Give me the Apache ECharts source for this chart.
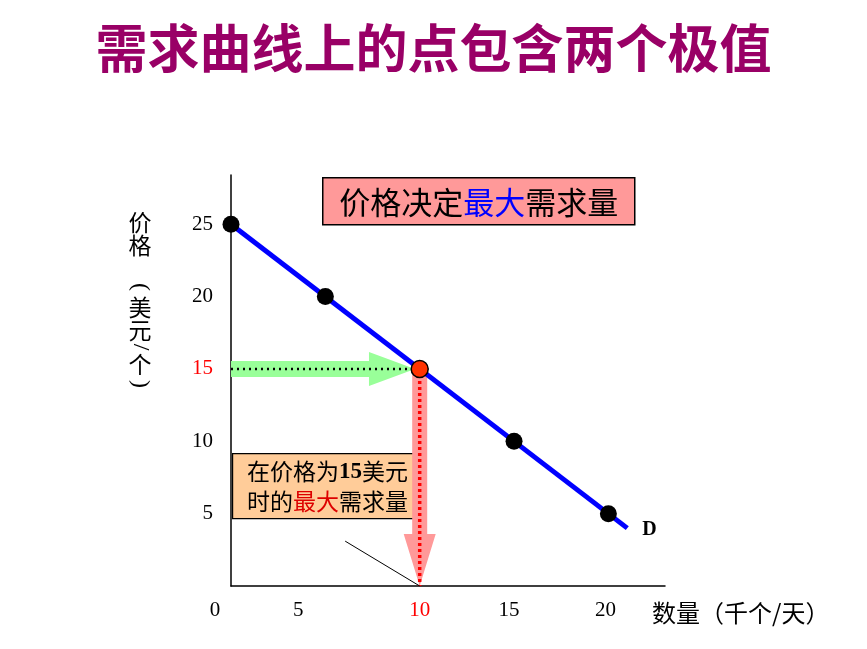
<!DOCTYPE html>
<html>
<head>
<meta charset="utf-8">
<script src="https://cdn.jsdelivr.net/npm/echarts@6/dist/echarts.min.js"></script>
<style>
  html, body { margin: 0; padding: 0; background: #fff; }
  #chart { width: 867px; height: 649px; }
</style>
</head>
<body>
<div id="chart"></div>
<script>
var xTicks = [0, 5, 10, 15, 20];
var yTicks = [5, 10, 15, 20, 25];
var demandPoints = [[0, 25], [5, 20], [10, 15], [15, 10], [20, 5]];
var demandLine = [[0, 25], [21, 4]];
var chosenPoint = [[10, 15]];
var priceGuide = [[0, 15], [9.75, 15]];
var quantityGuide = [[10, 15], [10, 0]];
var pointerLine = [[6.05, 3.1], [10, 0]];
var yNameChars = ['价', '格', '(', '美', '元', '/', '个', ')'];
var xLabelShift = { 0: 16, 5: 27, 15: 5, 20: 3 };

var serif = '"Liberation Serif", "DejaVu Serif", serif';
var cjk = '"Noto Sans CJK SC", sans-serif';

function arrowItem(w, hw, hl, color) {
  return function (params, api) {
    var a = api.coord([api.value(0), api.value(1)]);
    var b = api.coord([api.value(2), api.value(3)]);
    var dx = b[0] - a[0], dy = b[1] - a[1];
    var len = Math.sqrt(dx * dx + dy * dy);
    var ux = dx / len, uy = dy / len, nx = -uy, ny = ux;
    var hx = b[0] - ux * hl, hy = b[1] - uy * hl;
    var pts = [
      [a[0] + nx * w, a[1] + ny * w],
      [hx + nx * w, hy + ny * w],
      [hx + nx * hw, hy + ny * hw],
      [b[0], b[1]],
      [hx - nx * hw, hy - ny * hw],
      [hx - nx * w, hy - ny * w],
      [a[0] - nx * w, a[1] - ny * w]
    ];
    return { type: 'polygon', shape: { points: pts }, style: { fill: color } };
  };
}

// vertical y-axis name, one glyph per row; punctuation turned like vertical CJK text
var yNameRows = [222, 245, 287, 307, 330, 347, 364, 384];
var yNameGraphics = yNameChars.map(function (ch, i) {
  var turned = '()/'.indexOf(ch) >= 0;
  return {
    type: 'text', x: 140, y: yNameRows[i],
    rotation: turned ? -Math.PI / 2 : 0,
    style: {
      text: ch, fill: '#000', font: (turned ? '24px ' + serif : '23px ' + cjk),
      align: 'center', verticalAlign: 'middle'
    }
  };
});

var chart = echarts.init(document.getElementById('chart'), null, { renderer: 'canvas' });
chart.setOption({
  animation: false,
  grid: { left: 231, right: 202, top: 175, bottom: 63 },
  xAxis: {
    type: 'value', min: 0, max: 23, interval: 5,
    axisLine: { lineStyle: { color: '#000', width: 1.5 } },
    axisTick: { show: false },
    splitLine: { show: false },
    axisLabel: {
      showMaxLabel: false, margin: 14,
      fontFamily: serif, fontSize: 21, color: '#000',
      formatter: function (v) {
        if (xTicks.indexOf(v) < 0) return '';
        var s = xLabelShift[v] || 0;
        return '{' + (v === 10 ? 'r' : 'k') + s + '|' + v + '}';
      },
      rich: (function () {
        var r = {};
        [0, 3, 5, 16, 27].forEach(function (s) {
          r['k' + s] = { color: '#000', fontFamily: serif, fontSize: 21, padding: [0, s * 2, 0, 0] };
          r['r' + s] = { color: '#ff0000', fontFamily: serif, fontSize: 21, padding: [0, s * 2, 0, 0] };
        });
        return r;
      })()
    }
  },
  yAxis: {
    type: 'value', min: 0, max: 28.4, interval: 5,
    axisLine: { lineStyle: { color: '#000', width: 1.5 } },
    axisTick: { show: false },
    splitLine: { show: false },
    axisLabel: {
      showMinLabel: false, showMaxLabel: false, margin: 18,
      fontFamily: serif, fontSize: 21,
      formatter: function (v) {
        if (yTicks.indexOf(v) < 0) return '';
        return v === 15 ? '{r|' + v + '}' : '{k|' + v + '}';
      },
      rich: {
        k: { color: '#000', fontFamily: serif, fontSize: 21 },
        r: { color: '#ff0000', fontFamily: serif, fontSize: 21 }
      }
    }
  },
  series: [
    {
      type: 'custom', name: 'price arrow', z: 1,
      encode: { x: [0, 2], y: [1, 3] },
      data: [[priceGuide[0][0], priceGuide[0][1], priceGuide[1][0], priceGuide[1][1]]],
      renderItem: arrowItem(8, 17, 46, '#99ff99')
    },
    {
      type: 'custom', name: 'quantity arrow', z: 1,
      encode: { x: [0, 2], y: [1, 3] },
      data: [[quantityGuide[0][0], quantityGuide[0][1], quantityGuide[1][0], quantityGuide[1][1]]],
      renderItem: arrowItem(7.5, 16, 52, '#ff9999')
    },
    {
      type: 'line', z: 2, data: priceGuide, showSymbol: false, silent: true,
      lineStyle: { color: '#000', width: 2.5, type: [2, 4] }
    },
    {
      type: 'line', z: 2, data: quantityGuide, showSymbol: false, silent: true,
      lineStyle: { color: '#ff0000', width: 3.5, type: [3, 3] }
    },
    {
      type: 'line', z: 2, data: pointerLine, showSymbol: false, silent: true,
      lineStyle: { color: '#000', width: 1 }
    },
    {
      type: 'line', z: 3, data: demandLine, showSymbol: false, silent: true,
      lineStyle: { color: '#0000ff', width: 5 },
      endLabel: {
        show: true, formatter: 'D', color: '#000',
        fontFamily: serif, fontWeight: 'bold', fontSize: 20, offset: [7, 2]
      }
    },
    {
      type: 'scatter', z: 4, data: demandPoints, symbolSize: 17,
      itemStyle: { color: '#000', opacity: 1 }
    },
    {
      type: 'scatter', z: 5, data: chosenPoint, symbolSize: 17,
      itemStyle: { color: '#ff3300', borderColor: '#000', borderWidth: 1.5, opacity: 1 }
    }
  ],
  graphic: [
    {
      type: 'text', left: 'center', top: 22,
      style: { text: '需求曲线上的点包含两个极值', fill: '#990066', font: 'bold 52px ' + cjk }
    },
    {
      type: 'group', left: 322, top: 177,
      children: [
        { type: 'rect', shape: { x: 0, y: 0, width: 312, height: 47 },
          style: { fill: '#ff9999', stroke: '#000', lineWidth: 1.5 } },
        { type: 'text', x: 156, y: 24,
          style: {
            text: '{k|价格决定}{b|最大}{k|需求量}', align: 'center', verticalAlign: 'middle',
            rich: {
              k: { fill: '#000', font: '31px ' + cjk },
              b: { fill: '#0000ff', font: '31px ' + cjk }
            }
          } }
      ]
    },
    {
      type: 'group', left: 232, top: 453, z: 10,
      children: [
        { type: 'rect', shape: { x: 0, y: 0, width: 190, height: 65 },
          style: { fill: '#ffcc99', stroke: '#000', lineWidth: 1.2 } },
        { type: 'text', x: 95, y: 33,
          style: {
            text: '{k|在价格为}{n|15}{k|美元}\n{k|时的}{r|最大}{k|需求量}',
            align: 'center', verticalAlign: 'middle',
            rich: {
              k: { fill: '#000', font: '23px ' + cjk, lineHeight: 30 },
              n: { fill: '#000', font: 'bold 23px ' + serif, lineHeight: 30 },
              r: { fill: '#dd0000', font: '23px ' + cjk, lineHeight: 30 }
            }
          } }
      ]
    }
  ].concat(yNameGraphics, [
    {
      type: 'text', left: 652, top: 601,
      style: { text: '数量（千个/天）', fill: '#000', font: '24px ' + cjk }
    }
  ])
});
</script>
</body>
</html>
